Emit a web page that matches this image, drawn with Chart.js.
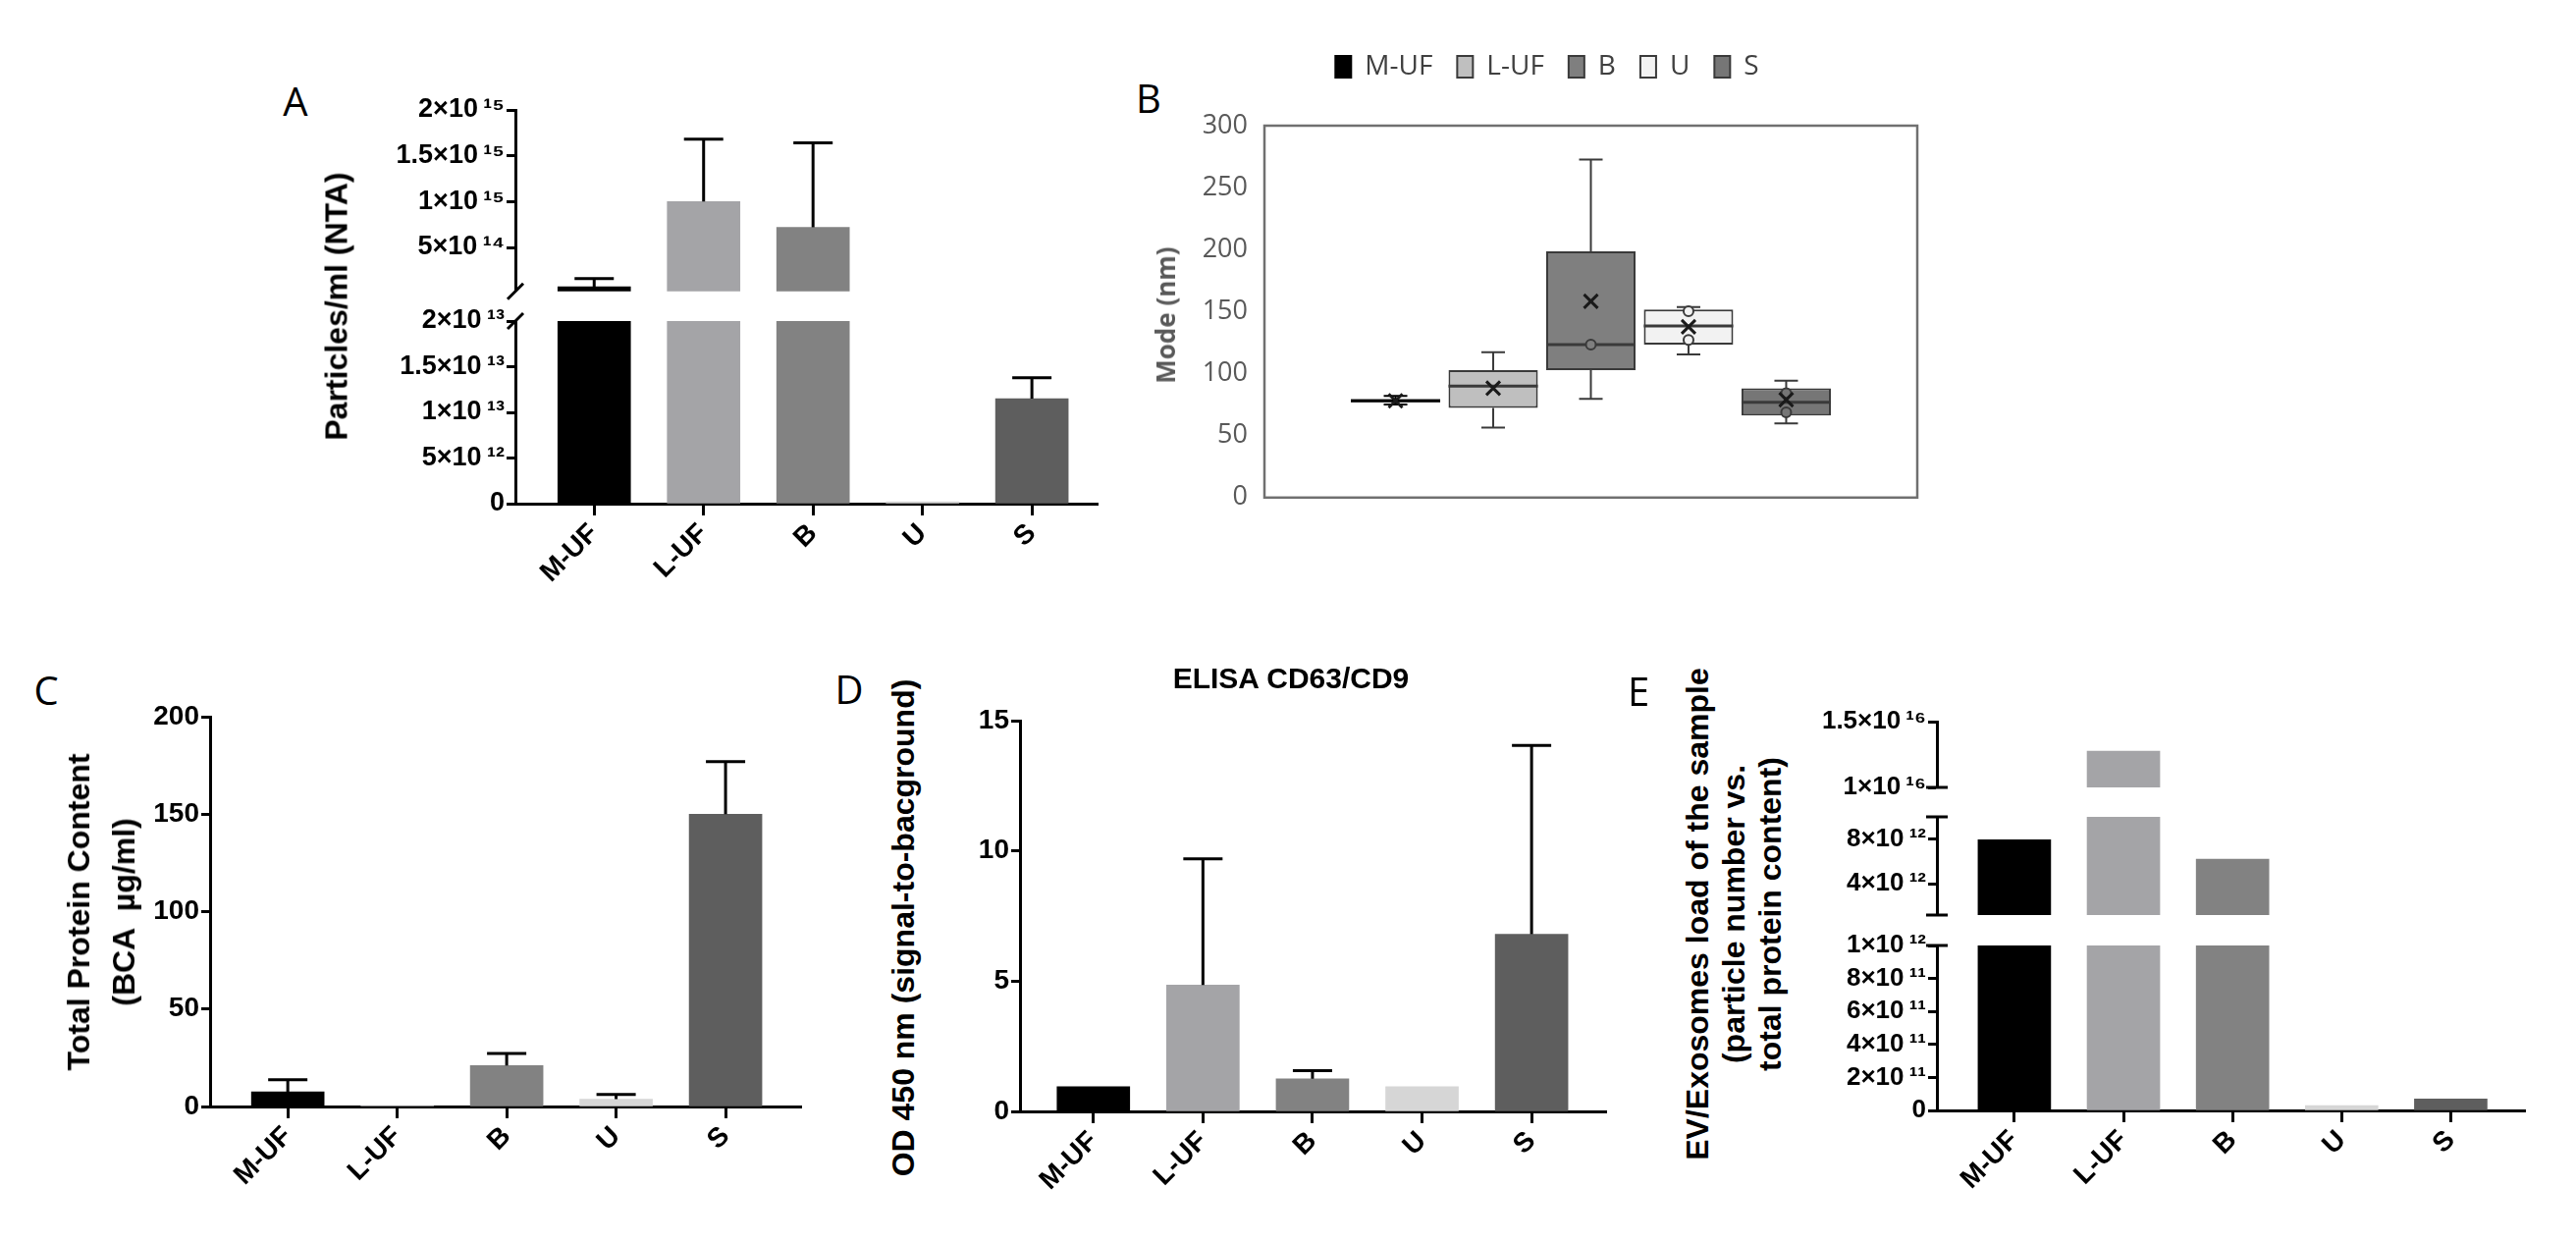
<!DOCTYPE html>
<html>
<head>
<meta charset="utf-8">
<title>EV isolation methods - characterisation</title>
<script src="https://cdn.jsdelivr.net/npm/chart.js@4.4.1/dist/chart.umd.min.js"></script>
<style>
  html, body { margin: 0; padding: 0; background: #fff; }
  #page { position: relative; width: 2624px; height: 1264px; overflow: hidden; background: #fff; }
  #page canvas { position: absolute; }
  .lbl { position: absolute; white-space: pre; color: #000; text-align: center; transform: translate(-50%, -50%); }
  .panel { font-family: "Open Sans", sans-serif; font-size: 40px; line-height: 44px; }
  .rot { font-family: "Liberation Sans", Arial, sans-serif; font-weight: bold; font-size: 32px; transform: translate(-50%, -50%) rotate(-90deg); }
</style>
</head>
<body>
<div id="page"></div>
<script>
// groups and colours
var groups = ["M-UF", "L-UF", "B", "U", "S"];
var barColors = ["#000000", "#a4a4a7", "#828282", "#d6d6d6", "#5e5e5e"];

// A - particles/ml (NTA), mean and mean+SD
var ntaMean = [7e13, 1.0e15, 7.2e14, 2e11, 1.15e13];
var ntaErr = [1.6e14, 1.68e15, 1.64e15, null, 1.38e13];
var ntaTicksHigh = [5e14, 1e15, 1.5e15, 2e15];
var ntaTicksLow = [0, 5e12, 1e13, 1.5e13, 2e13];

// B - mode size (nm), box plot
var modeMin = [75, 56.4, 79.7, 115.4, 59.8];
var modeQ1 = [77, 72.3, 102.7, 123.4, 66.2];
var modeMedian = [78, 90, 123.4, 138.5, 76.8];
var modeQ3 = [79.5, 102.7, 198.6, 151.7, 88.2];
var modeMax = [82, 117.3, 272.7, 153.6, 94.3];
var modeMean = [78, 88.2, 158.3, 137.7, 78.9];
var modePoints = [[], [], [123.4], [150.4, 127.1], [84.2, 68.8]];
var modeTicks = [0, 50, 100, 150, 200, 250, 300];
var boxFill = ["#000000", "#bfbfbf", "#7f7f7f", "#f2f2f2", "#767676"];

// C - total protein (BCA ug/ml)
var proteinMean = [7.5, 0.3, 21, 3.8, 150];
var proteinErr = [13.7, null, 27.2, 6.2, 177];
var proteinTicks = [0, 50, 100, 150, 200];

// D - ELISA CD63/CD9 (OD 450 nm)
var elisaMean = [0.95, 4.85, 1.25, 0.95, 6.8];
var elisaErr = [null, 9.7, 1.56, null, 14.05];
var elisaTicks = [0, 5, 10, 15];

// E - EV load (particles vs protein)
var loadMean = [7.95e12, 1.276e16, 6.2e12, 3e10, 7e10];
var loadTicksTop = [1e16, 1.5e16];
var loadTicksMid = [4e12, 8e12];
var loadTicksLow = [0, 2e11, 4e11, 6e11, 8e11, 1e12];

var sans = '"Liberation Sans", Arial, sans-serif';
var office = '"Open Sans", "Noto Sans", sans-serif';
Chart.defaults.font.family = sans;
Chart.defaults.color = "#000";

var page = document.getElementById("page");

// "2x10^15" style labels
var sup = { "0": "\u2070", "1": "\u00b9", "2": "\u00b2", "3": "\u00b3", "4": "\u2074", "5": "\u2075", "6": "\u2076", "7": "\u2077", "8": "\u2078", "9": "\u2079" };
var sciLabel = function (v) {
  if (v === 0) return "0";
  var e = Math.floor(Math.log10(v) + 1e-9);
  var m = Math.round((v / Math.pow(10, e)) * 10) / 10;
  return m + "\u00d710\u2009" + String(e).split("").map(function (d) { return sup[d]; }).join("");
};

var addCanvas = function (id, box) {
  var c = document.createElement("canvas");
  c.id = id;
  c.width = box.w;
  c.height = box.h;
  c.style.left = box.x + "px";
  c.style.top = box.y + "px";
  c.style.width = box.w + "px";
  c.style.height = box.h + "px";
  page.appendChild(c);
  return c;
};

var addText = function (cls, text, cx, cy, extra) {
  var d = document.createElement("div");
  d.className = "lbl " + cls;
  d.textContent = text;
  d.style.left = cx + "px";
  d.style.top = cy + "px";
  if (extra) {
    Object.keys(extra).forEach(function (k) { d.style[k] = extra[k]; });
  }
  page.appendChild(d);
};

// mean + SD bars, drawn above each bar
var errorBarPlugin = {
  id: "errorBars",
  afterDatasetsDraw: function (chart) {
    var ctx = chart.ctx, area = chart.chartArea, y = chart.scales.y;
    chart.data.datasets.forEach(function (ds, di) {
      if (!ds.errors) return;
      var meta = chart.getDatasetMeta(di);
      ctx.save();
      ctx.beginPath();
      ctx.rect(area.left, area.top - 2, area.right - area.left, area.bottom - area.top + 2);
      ctx.clip();
      ctx.strokeStyle = "#000";
      ctx.lineWidth = 3;
      meta.data.forEach(function (bar, i) {
        var e = ds.errors[i];
        // nothing to show when the whisker ends below this axis segment
        if (e === null || e === undefined || e <= y.min) return;
        var yTop = y.getPixelForValue(e);
        ctx.beginPath();
        ctx.moveTo(bar.x, bar.y);
        ctx.lineTo(bar.x, yTop);
        ctx.moveTo(bar.x - 20, yTop);
        ctx.lineTo(bar.x + 20, yTop);
        ctx.stroke();
      });
      ctx.restore();
    });
  }
};

// marks at the ends of a broken y axis
var axisBreakPlugin = {
  id: "axisBreak",
  afterDraw: function (chart, args, opts) {
    if (!opts || (!opts.top && !opts.bottom)) return;
    var ctx = chart.ctx, a = chart.chartArea, x = a.left;
    ctx.save();
    ctx.strokeStyle = "#000";
    ctx.lineWidth = 3;
    [["top", a.top], ["bottom", a.bottom]].forEach(function (p) {
      var kind = opts[p[0]], yy = p[1];
      if (!kind) return;
      ctx.beginPath();
      if (kind === "slash") {
        ctx.moveTo(x - 8, yy + 8);
        ctx.lineTo(x + 8, yy - 8);
      } else {
        ctx.moveTo(x - 11, yy);
        ctx.lineTo(x + 11, yy);
      }
      ctx.stroke();
    });
    ctx.restore();
  }
};

// one bar panel (or one segment of a broken axis)
var makeBars = function (id, box, area, cfg) {
  var yWidth = area.l - box.x;
  var xHeight = box.y + box.h - area.b;
  var canvas = addCanvas(id, box);
  return new Chart(canvas, {
    type: "bar",
    data: {
      datasets: [{
        data: cfg.values.map(function (v, i) { return { x: i, y: v }; }),
        errors: cfg.errors,
        backgroundColor: barColors,
        borderWidth: 0,
        barThickness: 74,
        clip: 0
      }]
    },
    options: {
      responsive: false,
      animation: false,
      events: [],
      layout: { padding: { left: 0, top: area.t - box.y, right: box.x + box.w - area.r, bottom: cfg.showX ? 0 : xHeight } },
      plugins: { legend: { display: false }, tooltip: { enabled: false }, axisBreak: cfg.breaks || {} },
      scales: {
        x: {
          type: "linear",
          display: !!cfg.showX,
          min: cfg.xMin,
          max: cfg.xMax,
          offset: false,
          afterBuildTicks: function (s) { s.ticks = groups.map(function (g, i) { return { value: i }; }); },
          afterFit: function (s) { if (cfg.showX) s.height = xHeight; },
          grid: { offset: false, drawOnChartArea: false, tickLength: 12, tickWidth: 3, tickColor: "#000" },
          border: { color: "#000", width: 3 },
          ticks: {
            autoSkip: false, minRotation: 45, maxRotation: 45, padding: 2, color: "#000",
            font: { family: sans, weight: "bold", size: 28 },
            callback: function (v) { return groups[v]; }
          }
        },
        y: {
          min: cfg.yMin,
          max: cfg.yMax,
          afterBuildTicks: function (s) { s.ticks = cfg.yTicks.map(function (v) { return { value: v }; }); },
          afterFit: function (s) { s.width = yWidth; },
          grid: { drawOnChartArea: false, tickLength: 9, tickWidth: 3, tickColor: "#000" },
          border: { color: "#000", width: 3 },
          ticks: {
            autoSkip: false, padding: 2, color: "#000",
            font: { family: sans, weight: "bold", size: cfg.tickSize || 28 },
            callback: cfg.fmt || function (v) { return v; }
          }
        }
      }
    },
    plugins: [errorBarPlugin, axisBreakPlugin]
  });
};

// ---------- A ----------
makeBars("a-high", { x: 360, y: 90, w: 780, h: 225 }, { l: 525, t: 112, r: 1118, b: 298 }, {
  values: ntaMean, errors: ntaErr, yMin: 2e13, yMax: 2e15, yTicks: ntaTicksHigh, fmt: sciLabel,
  tickSize: 27, xMin: -0.72, xMax: 4.6, showX: false, breaks: { bottom: "slash" }
});
makeBars("a-low", { x: 360, y: 300, w: 780, h: 340 }, { l: 525, t: 327, r: 1118, b: 513 }, {
  values: ntaMean, errors: ntaErr, yMin: 0, yMax: 2e13, yTicks: ntaTicksLow, fmt: sciLabel,
  tickSize: 27, xMin: -0.72, xMax: 4.6, showX: true, breaks: { top: "slash" }
});

// ---------- C ----------
makeBars("c", { x: 140, y: 700, w: 700, h: 564 }, { l: 214, t: 730, r: 816, b: 1127 }, {
  values: proteinMean, errors: proteinErr, yMin: 0, yMax: 200, yTicks: proteinTicks,
  xMin: -0.71, xMax: 4.69, showX: true
});

// ---------- D ----------
makeBars("d", { x: 960, y: 700, w: 700, h: 564 }, { l: 1039, t: 734, r: 1636, b: 1132 }, {
  values: elisaMean, errors: elisaErr, yMin: 0, yMax: 15, yTicks: elisaTicks,
  xMin: -0.67, xMax: 4.68, showX: true
});

// ---------- E ----------
makeBars("e-top", { x: 1835, y: 712, w: 765, h: 110 }, { l: 1973, t: 735, r: 2572, b: 802 }, {
  values: loadMean, yMin: 1e16, yMax: 1.5e16, yTicks: loadTicksTop, fmt: sciLabel,
  tickSize: 26, xMin: -0.71, xMax: 4.68, showX: false, breaks: { bottom: "cap" }
});
makeBars("e-mid", { x: 1835, y: 812, w: 765, h: 140 }, { l: 1973, t: 832, r: 2572, b: 932 }, {
  values: loadMean, yMin: 1.2e12, yMax: 1e13, yTicks: loadTicksMid, fmt: sciLabel,
  tickSize: 26, xMin: -0.71, xMax: 4.68, showX: false, breaks: { top: "cap", bottom: "cap" }
});
makeBars("e-low", { x: 1835, y: 940, w: 765, h: 324 }, { l: 1973, t: 963, r: 2572, b: 1131 }, {
  values: loadMean, yMin: 0, yMax: 1e12, yTicks: loadTicksLow, fmt: sciLabel,
  tickSize: 26, xMin: -0.71, xMax: 4.68, showX: true, breaks: { top: "cap" }
});

// ---------- B (box plot) ----------
var boxEdge = "#3a3a3a";

var boxPlotPlugin = {
  id: "boxWhiskers",
  afterDatasetsDraw: function (chart) {
    var ctx = chart.ctx, y = chart.scales.y;
    chart.data.datasets.forEach(function (ds, i) {
      var bar = chart.getDatasetMeta(i).data[0];
      var x = bar.x, half = bar.width / 2;
      var py = function (v) { return y.getPixelForValue(v); };
      ctx.save();
      ctx.strokeStyle = i === 0 ? "#000" : boxEdge;
      ctx.lineWidth = 2;
      // whiskers
      ctx.beginPath();
      ctx.moveTo(x, py(modeQ3[i])); ctx.lineTo(x, py(modeMax[i]));
      ctx.moveTo(x - 12, py(modeMax[i])); ctx.lineTo(x + 12, py(modeMax[i]));
      ctx.moveTo(x, py(modeQ1[i])); ctx.lineTo(x, py(modeMin[i]));
      ctx.moveTo(x - 12, py(modeMin[i])); ctx.lineTo(x + 12, py(modeMin[i]));
      ctx.stroke();
      // median
      ctx.lineWidth = 3;
      ctx.beginPath();
      ctx.moveTo(x - half, py(modeMedian[i])); ctx.lineTo(x + half, py(modeMedian[i]));
      ctx.stroke();
      // inner points
      ctx.lineWidth = 2;
      modePoints[i].forEach(function (v) {
        ctx.beginPath();
        ctx.arc(x, py(v), 5, 0, Math.PI * 2);
        ctx.fillStyle = boxFill[i];
        ctx.fill();
        ctx.stroke();
      });
      // mean marker
      var m = py(modeMean[i]);
      ctx.lineWidth = 3;
      ctx.strokeStyle = "#1a1a1a";
      ctx.beginPath();
      ctx.moveTo(x - 7, m - 7); ctx.lineTo(x + 7, m + 7);
      ctx.moveTo(x + 7, m - 7); ctx.lineTo(x - 7, m + 7);
      ctx.stroke();
      ctx.restore();
    });
  }
};

var framePlugin = {
  id: "frame",
  afterDraw: function (chart) {
    var a = chart.chartArea, ctx = chart.ctx;
    ctx.save();
    ctx.strokeStyle = "#707070";
    ctx.lineWidth = 2.5;
    ctx.strokeRect(a.left, a.top, a.right - a.left, a.bottom - a.top);
    ctx.restore();
  }
};

var bBox = { x: 1199, y: 20, w: 777, h: 520 };
var bArea = { l: 1288, t: 128, r: 1953, b: 514 };
new Chart(addCanvas("b", bBox), {
  type: "bar",
  data: {
    labels: [""],
    datasets: groups.map(function (g, i) {
      return {
        label: g,
        data: [[modeQ1[i], modeQ3[i]]],
        backgroundColor: boxFill[i],
        borderColor: i === 0 ? "#000" : boxEdge,
        borderWidth: 2,
        borderSkipped: false,
        categoryPercentage: 0.748,
        barPercentage: 0.915
      };
    })
  },
  options: {
    responsive: false,
    animation: false,
    events: [],
    layout: { padding: { left: 0, top: 9, right: bBox.x + bBox.w - bArea.r, bottom: bBox.y + bBox.h - bArea.b } },
    plugins: {
      tooltip: { enabled: false },
      legend: {
        position: "top",
        weight: 3000,
        labels: { font: { family: office, size: 28 }, color: "#404040", boxWidth: 16, boxHeight: 22, padding: 25 }
      },
      title: { display: true, text: "", font: { size: 10 }, padding: { top: 0, bottom: 24 } }
    },
    scales: {
      x: { display: false },
      y: {
        min: 0,
        max: 300,
        afterBuildTicks: function (s) { s.ticks = modeTicks.map(function (v) { return { value: v }; }); },
        afterFit: function (s) { s.width = bArea.l - bBox.x; },
        grid: { display: false, drawTicks: false },
        border: { display: false },
        ticks: { padding: 17, color: "#595959", font: { family: office, size: 27 } }
      }
    }
  },
  plugins: [framePlugin, boxPlotPlugin]
});

// ---------- free text ----------
addText("panel", "A", 301, 103);
addText("panel", "B", 1170, 100);
addText("panel", "C", 47, 703);
addText("panel", "D", 865, 702);
addText("panel", "E", 1669, 704);

addText("rot", "Particles/ml (NTA)", 343, 312);
addText("rot", "Mode (nm)", 1187, 321, { fontFamily: office, fontSize: "26px", color: "#595959" });
addText("rot", "Total Protein Content\n(BCA  \u00b5g/ml)", 103, 929, { lineHeight: "46px" });
addText("rot", "OD 450 nm (signal-to-bacground)", 920, 945);
addText("rot", "EV/Exosomes load of the sample\n(particle number vs.\ntotal protein content)", 1766, 931, { fontSize: "32px", lineHeight: "37px" });
addText("", "ELISA CD63/CD9", 1315, 691, { fontFamily: sans, fontWeight: "bold", fontSize: "30px" });
</script>
</body>
</html>
